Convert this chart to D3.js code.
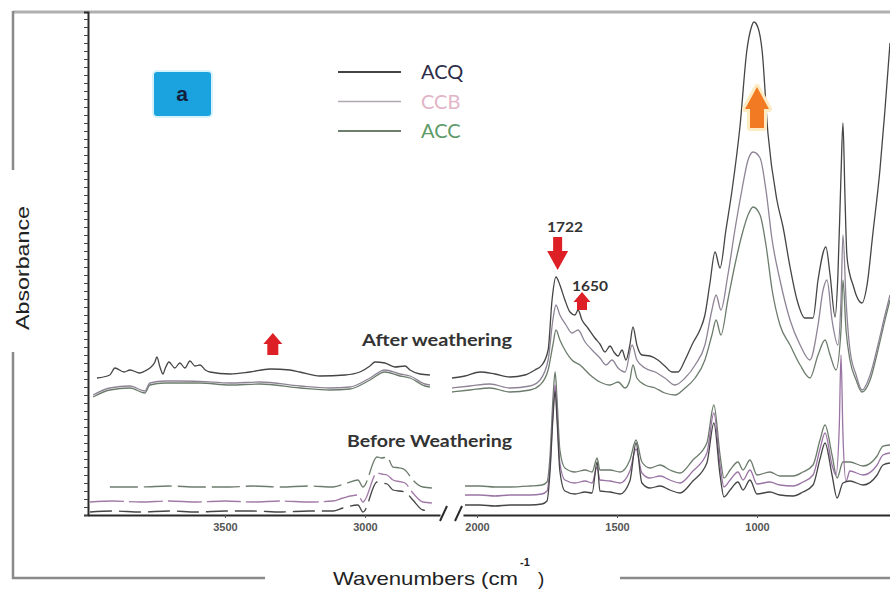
<!DOCTYPE html>
<html>
<head>
<meta charset="utf-8">
<script src="https://cdn.jsdelivr.net/npm/d3@7"></script>
<style>
body { margin: 0; background: #fff; }
</style>
</head>
<body>
<script>
// ---- data: [wavenumber (cm-1), absorbance] ----
var leftTicks = [3500, 3000];
var rightTicks = [2000, 1500, 1000];
var legendNames = ["ACQ", "CCB", "ACC"];

// after weathering, 4000-2700 segment
var acqAfterLeft = [[3957,0.685],[3911,0.70],[3893,0.735],[3860,0.715],[3839,0.725],[3804,0.71],[3786,0.72],[3768,0.735],[3750,0.765],[3743,0.79],[3732,0.74],[3721,0.705],[3714,0.73],[3700,0.765],[3679,0.735],[3661,0.76],[3643,0.735],[3625,0.77],[3607,0.745],[3589,0.75],[3570,0.725],[3554,0.715],[3482,0.705],[3411,0.715],[3339,0.73],[3268,0.725],[3232,0.715],[3161,0.695],[3071,0.70],[3018,0.715],[2982,0.745],[2964,0.765],[2929,0.76],[2893,0.74],[2857,0.745],[2839,0.725],[2804,0.705],[2768,0.70]];
var ccbAfterLeft = [[3971,0.60],[3911,0.635],[3839,0.645],[3786,0.62],[3768,0.66],[3714,0.67],[3661,0.67],[3589,0.668],[3482,0.66],[3375,0.665],[3232,0.645],[3125,0.635],[3054,0.64],[2982,0.685],[2929,0.725],[2875,0.705],[2839,0.695],[2786,0.655],[2768,0.65]];
var accAfterLeft = [[3971,0.59],[3911,0.625],[3839,0.635],[3786,0.61],[3768,0.65],[3714,0.66],[3661,0.66],[3589,0.66],[3482,0.65],[3375,0.655],[3232,0.635],[3125,0.625],[3054,0.63],[2982,0.675],[2929,0.715],[2875,0.695],[2839,0.685],[2786,0.645],[2768,0.64]];

// after weathering, 2100-500 segment
var acqAfterRight = [[2089,0.685],[2043,0.695],[1989,0.715],[1936,0.705],[1882,0.69],[1829,0.70],[1793,0.725],[1768,0.75],[1746,0.825],[1732,1.075],[1718,1.19],[1704,1.15],[1686,1.075],[1668,1.015],[1650,1.0],[1639,1.025],[1625,0.975],[1604,0.935],[1579,0.885],[1561,0.855],[1543,0.815],[1525,0.845],[1511,0.815],[1496,0.795],[1482,0.825],[1468,0.775],[1454,0.85],[1443,0.94],[1429,0.85],[1411,0.80],[1382,0.795],[1354,0.775],[1329,0.745],[1304,0.715],[1282,0.715],[1257,0.775],[1229,0.86],[1204,0.925],[1186,1.0],[1168,1.16],[1150,1.315],[1132,1.235],[1111,1.425],[1089,1.625],[1061,1.94],[1036,2.325],[1021,2.435],[1011,2.465],[996,2.435],[982,2.325],[961,1.91],[929,1.575],[907,1.44],[882,1.24],[857,1.075],[829,0.985],[800,0.985],[782,1.175],[754,1.34],[739,1.20],[721,0.99],[711,1.2],[700,1.7],[693,1.96],[686,1.6],[679,1.3],[668,1.2],[657,1.15],[646,1.10],[625,1.06],[607,1.15],[586,1.41],[561,1.725],[543,2.025],[525,2.36]];
var ccbAfterRight = [[2089,0.635],[2025,0.645],[1954,0.655],[1882,0.635],[1811,0.645],[1775,0.675],[1746,0.775],[1729,0.975],[1718,1.05],[1704,1.0],[1682,0.95],[1661,0.91],[1639,0.925],[1614,0.865],[1589,0.825],[1561,0.785],[1539,0.75],[1518,0.775],[1496,0.735],[1471,0.715],[1446,0.85],[1429,0.775],[1400,0.735],[1364,0.715],[1329,0.685],[1293,0.65],[1257,0.685],[1221,0.75],[1186,0.85],[1161,1.025],[1146,1.10],[1129,1.025],[1104,1.20],[1079,1.425],[1054,1.625],[1032,1.775],[1014,1.815],[989,1.785],[968,1.625],[946,1.375],[918,1.175],[882,0.975],[846,0.85],[811,0.775],[782,0.95],[764,1.125],[750,1.175],[732,0.975],[711,0.85],[700,1.075],[693,1.40],[682,1.075],[668,0.825],[646,0.70],[625,0.625],[596,0.70],[568,0.85],[543,1.0],[525,1.10]];
var accAfterRight = [[2089,0.615],[2025,0.625],[1954,0.635],[1882,0.615],[1811,0.625],[1775,0.65],[1746,0.725],[1729,0.85],[1718,0.925],[1704,0.875],[1682,0.815],[1661,0.775],[1632,0.75],[1596,0.70],[1561,0.665],[1525,0.65],[1496,0.665],[1471,0.635],[1454,0.675],[1443,0.75],[1429,0.685],[1400,0.65],[1364,0.635],[1329,0.61],[1293,0.60],[1257,0.635],[1221,0.685],[1186,0.775],[1161,0.90],[1146,0.975],[1129,0.90],[1104,1.075],[1079,1.25],[1054,1.40],[1032,1.50],[1014,1.54],[989,1.50],[968,1.35],[946,1.125],[918,0.95],[882,0.85],[846,0.75],[811,0.685],[782,0.80],[757,0.875],[739,0.80],[718,0.725],[700,0.925],[693,1.175],[682,0.925],[668,0.775],[646,0.675],[625,0.615],[596,0.675],[568,0.825],[543,0.975],[525,1.075]];

// before weathering, 4000-2700 segment
var accBeforeLeft = [[3911,0.14],[3800,0.14],[3700,0.145],[3600,0.14],[3482,0.14],[3400,0.145],[3300,0.14],[3200,0.145],[3114,0.14],[3064,0.16],[3025,0.175],[3007,0.14],[2957,0.29],[2940,0.285],[2921,0.29],[2900,0.24],[2875,0.235],[2857,0.225],[2829,0.175],[2793,0.14],[2761,0.135]];
var ccbBeforeLeft = [[3982,0.065],[3900,0.07],[3800,0.065],[3700,0.07],[3600,0.065],[3500,0.07],[3400,0.065],[3300,0.07],[3200,0.065],[3114,0.07],[3079,0.085],[3025,0.10],[3007,0.065],[2957,0.21],[2940,0.205],[2921,0.20],[2900,0.175],[2857,0.16],[2829,0.11],[2793,0.065],[2761,0.06]];
var acqBeforeLeft = [[3982,0.015],[3900,0.02],[3800,0.015],[3700,0.02],[3600,0.015],[3500,0.02],[3400,0.02],[3300,0.015],[3200,0.02],[3114,0.02],[3079,0.035],[3025,0.05],[3007,0.015],[2957,0.165],[2940,0.16],[2921,0.155],[2900,0.125],[2857,0.115],[2829,0.075],[2793,0.025],[2761,0.02]];

// before weathering, 2100-500 segment
var accBeforeRight = [[2043,0.145],[1989,0.145],[1936,0.14],[1882,0.14],[1811,0.145],[1768,0.15],[1750,0.165],[1739,0.30],[1729,0.575],[1721,0.715],[1714,0.575],[1704,0.325],[1686,0.235],[1650,0.215],[1614,0.225],[1589,0.215],[1571,0.285],[1561,0.225],[1525,0.225],[1489,0.215],[1454,0.275],[1432,0.375],[1411,0.265],[1382,0.235],[1346,0.25],[1311,0.225],[1275,0.21],[1229,0.275],[1179,0.36],[1154,0.55],[1132,0.30],[1118,0.185],[1096,0.225],[1068,0.265],[1050,0.225],[1025,0.275],[1000,0.20],[954,0.215],[918,0.195],[871,0.195],[836,0.215],[800,0.25],[775,0.375],[757,0.45],[732,0.30],[714,0.185],[693,0.265],[668,0.265],[621,0.245],[571,0.295],[550,0.345],[525,0.35]];
var ccbBeforeRight = [[2043,0.10],[1989,0.10],[1936,0.095],[1882,0.10],[1811,0.10],[1768,0.105],[1750,0.12],[1739,0.25],[1729,0.50],[1721,0.65],[1714,0.50],[1704,0.26],[1686,0.175],[1650,0.16],[1614,0.17],[1589,0.16],[1571,0.24],[1561,0.175],[1525,0.17],[1489,0.16],[1454,0.22],[1432,0.33],[1411,0.21],[1382,0.185],[1346,0.195],[1311,0.175],[1275,0.16],[1229,0.22],[1179,0.31],[1154,0.51],[1132,0.25],[1118,0.14],[1096,0.175],[1068,0.215],[1050,0.175],[1025,0.225],[1000,0.155],[954,0.165],[918,0.15],[871,0.145],[836,0.165],[800,0.20],[775,0.33],[757,0.41],[732,0.25],[718,0.20],[706,0.45],[700,0.80],[693,0.40],[682,0.17],[668,0.22],[621,0.20],[571,0.25],[550,0.30],[525,0.31]];
var acqBeforeRight = [[2043,0.05],[1989,0.05],[1936,0.045],[1882,0.05],[1811,0.05],[1768,0.055],[1750,0.07],[1739,0.22],[1729,0.48],[1721,0.62],[1714,0.47],[1704,0.22],[1686,0.12],[1650,0.105],[1614,0.115],[1589,0.11],[1571,0.265],[1561,0.12],[1525,0.115],[1489,0.105],[1454,0.17],[1432,0.36],[1411,0.16],[1382,0.135],[1346,0.145],[1311,0.125],[1275,0.11],[1229,0.17],[1179,0.26],[1154,0.46],[1132,0.20],[1118,0.09],[1096,0.125],[1068,0.165],[1050,0.125],[1025,0.175],[1000,0.105],[954,0.115],[918,0.10],[871,0.095],[836,0.115],[800,0.15],[775,0.28],[757,0.36],[732,0.20],[714,0.085],[693,0.16],[668,0.17],[621,0.15],[571,0.20],[550,0.25],[525,0.26]];

var w = 890, h = 591;
var svg = d3.select("body").append("svg")
	.attr("width", w)
	.attr("height", h)
	.style("background-color", "#fff");

// broken x axis: two linear pieces with the same cm-1 per pixel
var xL = d3.scaleLinear().domain([3989, 2732]).range([88, 440]);
var xR = d3.scaleLinear().domain([2050, 525]).range([463, 890]);
var y = d3.scaleLinear().domain([0, 2.515]).range([515, 12]);

var colors = { ACQ: "#454545", CCB: "#8e8496", ACC: "#6c7c6c" };

// outer frame bits
function seg(x1, y1, x2, y2, col, sw) {
	svg.append("line").attr("x1", x1).attr("y1", y1).attr("x2", x2).attr("y2", y2)
		.attr("stroke", col).attr("stroke-width", sw);
}
seg(13, 12, 890, 12, "#b0b0b0", 3);
seg(13, 11, 13, 170, "#8a8a8a", 2.5);
seg(13, 352, 13, 579, "#8a8a8a", 2.5);
seg(12, 578, 265, 578, "#8a8a8a", 2.5);
seg(620, 578, 890, 578, "#8a8a8a", 2.5);

// y axis with dense unlabeled ticks
var yAxis = d3.axisLeft(y).tickValues(d3.range(0, 2.5, 0.04)).tickSize(4).tickFormat("");
var gy = svg.append("g").attr("transform", "translate(88,0)").call(yAxis);
gy.select(".domain").attr("stroke", "#2a2a2a").attr("stroke-width", 2);
gy.selectAll(".tick line").attr("stroke", "#444");

function xAxis(scale, vals) {
	var g = svg.append("g").attr("transform", "translate(0,515)")
		.call(d3.axisBottom(scale).tickValues(vals).tickFormat(d3.format("d"))
			.tickSize(3).tickSizeOuter(0).tickPadding(5));
	g.select(".domain").attr("stroke", "#2a2a2a").attr("stroke-width", 2);
	g.selectAll(".tick line").attr("stroke", "#555");
	g.selectAll(".tick text")
		.attr("font-family", "Liberation Sans, Arial, sans-serif")
		.attr("font-size", 11).attr("font-weight", "bold").attr("fill", "#555");
}
xAxis(xL, leftTicks);
xAxis(xR, rightTicks);

// axis break slashes
seg(440, 521, 447, 506, "#2a2a2a", 2);
seg(455, 521, 462, 506, "#2a2a2a", 2);

// spectra
function drawCurve(data, scale, col, dash) {
	var line = d3.line()
		.x(function(d) { return scale(d[0]); })
		.y(function(d) { return y(d[1]); })
		.curve(d3.curveMonotoneX);
	svg.append("path")
		.datum(data)
		.attr("d", line)
		.attr("fill", "none")
		.attr("stroke", col)
		.attr("stroke-width", 1.3)
		.attr("stroke-dasharray", dash || null);
}
drawCurve(accBeforeLeft, xL, colors.ACC, "28,6");
drawCurve(ccbBeforeLeft, xL, "#a27aa8", "34,5");
drawCurve(acqBeforeLeft, xL, colors.ACQ, "22,7");
drawCurve(accBeforeRight, xR, colors.ACC);
drawCurve(ccbBeforeRight, xR, "#9a74a4");
drawCurve(acqBeforeRight, xR, colors.ACQ);

drawCurve(accAfterLeft, xL, colors.ACC);
drawCurve(ccbAfterLeft, xL, colors.CCB);
drawCurve(acqAfterLeft, xL, colors.ACQ);
drawCurve(accAfterRight, xR, colors.ACC);
drawCurve(ccbAfterRight, xR, colors.CCB);
drawCurve(acqAfterRight, xR, colors.ACQ);

// legend
var legendText = ["#2c2c48", "#e2b4c8", "#5c9a68"];
var legendLine = ["#444", "#b0a8b0", "#6f7d6f"];
legendNames.forEach(function(n, i) {
	var ly = 72 + i * 29.5;
	seg(338, ly, 401, ly, legendLine[i], i == 1 ? 1.4 : 2);
	svg.append("text").attr("x", 421).attr("y", ly + 7)
		.attr("font-family", "Lato, sans-serif").attr("font-size", 20)
		.attr("fill", legendText[i]).text(n);
});

// panel tag
svg.append("rect").attr("x", 153).attr("y", 71).attr("width", 59).attr("height", 46)
	.attr("rx", 4).attr("fill", "#1aa3de").attr("stroke", "#d8f2fb").attr("stroke-width", 2);
svg.append("text").attr("x", 182).attr("y", 101).attr("text-anchor", "middle")
	.attr("font-family", "Liberation Sans, Arial, sans-serif").attr("font-size", 21)
	.attr("font-weight", "bold").attr("fill", "#13213d").text("a");

// group labels and peak labels
function label(x, yy, t, size, len, anchor) {
	svg.append("text").attr("x", x).attr("y", yy)
		.attr("text-anchor", anchor || "start")
		.attr("font-family", "Lato, sans-serif").attr("font-weight", "bold")
		.attr("font-size", size).attr("fill", "#333")
		.attr("textLength", len).attr("lengthAdjust", "spacingAndGlyphs")
		.text(t);
}
label(362, 346, "After weathering", 17, 150);
label(347, 447, "Before Weathering", 17, 165);
label(xR(1686), 232, "1722", 14, 36, "middle");
label(xR(1596), 291, "1650", 14, 36, "middle");

// arrows: tip at (cx, ty), dir 1 = pointing down, -1 = pointing up
function arrow(cx, ty, len, hw, sw, headLen, dir, col, glow) {
	var b = ty - dir * len, hb = ty - dir * headLen;
	var pts = [[cx, ty], [cx + hw, hb], [cx + sw, hb], [cx + sw, b], [cx - sw, b], [cx - sw, hb], [cx - hw, hb]];
	var ps = pts.map(function(q) { return q.join(","); }).join(" ");
	if (glow) svg.append("polygon").attr("points", ps).attr("fill", glow)
		.attr("stroke", glow).attr("stroke-width", 6).attr("stroke-linejoin", "round");
	svg.append("polygon").attr("points", ps).attr("fill", col);
}
arrow(xR(1712), y(1.225), 33, 10.5, 4.5, 19, 1, "#dd1f26");
arrow(xR(1625), y(1.115), 18, 8.5, 5, 10, -1, "#dd1f26");
arrow(xL(3329), y(0.91), 22, 9.5, 5.5, 11, -1, "#dd1f26");
arrow(xR(1000), y(2.14), 41, 12, 7, 22, -1, "#f27a22", "#fdebc4");

// axis titles
svg.append("text")
	.attr("transform", "translate(29,268) rotate(-90)")
	.attr("text-anchor", "middle")
	.attr("font-family", "Liberation Sans, Arial, sans-serif")
	.attr("font-size", 18).attr("fill", "#222")
	.attr("textLength", 124).attr("lengthAdjust", "spacingAndGlyphs")
	.text("Absorbance");
svg.append("text").attr("x", 333).attr("y", 585)
	.attr("font-family", "Liberation Sans, Arial, sans-serif")
	.attr("font-size", 19).attr("fill", "#222")
	.attr("textLength", 185).attr("lengthAdjust", "spacingAndGlyphs")
	.text("Wavenumbers (cm");
svg.append("text").attr("x", 520).attr("y", 566)
	.attr("font-family", "Liberation Sans, Arial, sans-serif")
	.attr("font-size", 11).attr("font-weight", "bold").attr("fill", "#222").text("-1");
svg.append("text").attr("x", 538).attr("y", 585)
	.attr("font-family", "Liberation Sans, Arial, sans-serif")
	.attr("font-size", 19).attr("fill", "#222").text(")");
</script>
</body>
</html>
